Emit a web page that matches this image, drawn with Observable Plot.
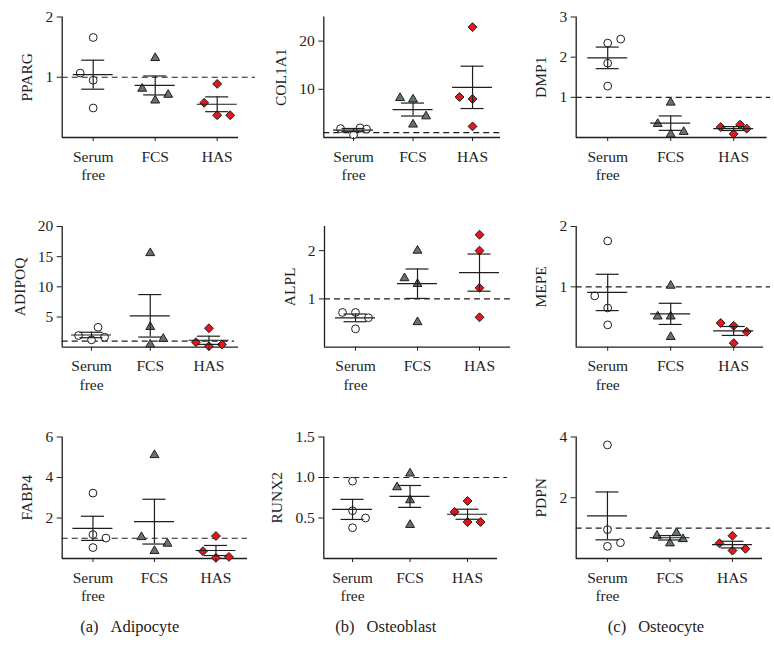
<!DOCTYPE html>
<html><head><meta charset="utf-8">
<script src="https://cdn.jsdelivr.net/npm/d3@7"></script>
<script src="https://cdn.jsdelivr.net/npm/@observablehq/plot@0.6"></script>
<style>
body{margin:0;background:#fff;}
#fig{position:relative;width:774px;height:661px;background:#fff;overflow:hidden;}
.panel{position:absolute;}
.cap{position:absolute;top:619px;font-family:"Liberation Serif";font-size:16.5px;line-height:16px;color:#222;white-space:nowrap;transform:translateX(-50%);}
.cap span{margin-left:12px;}
</style></head><body><div id="fig"></div>
<script>
// ---- data ----
const groups = ["Serum free", "FCS", "HAS"];
const groupTickLabels = ["Serum\nfree", "FCS", "HAS"];
const genes = ["PPARG", "COL1A1", "DMP1", "ADIPOQ", "ALPL", "MEPE", "FABP4", "RUNX2", "PDPN"];
const captionTags = ["(a)", "(b)", "(c)"];
const captionNames = ["Adipocyte", "Osteoblast", "Osteocyte"];

// values: 4 Serum free, 4 FCS, 4 HAS (fold change)
const PPARG  = [1.66, 1.07, 0.95, 0.49,  1.32, 0.81, 0.71, 0.615,  0.89, 0.576, 0.37, 0.37];
const COL1A1 = [1.85, 2.0, 1.75, 0.55,   8.2, 7.9, 4.4, 2.7,        22.9, 8.4, 8.0, 2.3];
const DMP1   = [2.35, 2.45, 1.85, 1.28,  0.87, 0.34, 0.08, 0.14,    0.26, 0.32, 0.22, 0.09];
const ADIPOQ = [1.93, 1.22, 3.3, 1.65,   15.6, 3.36, 1.39, 0.45,    3.14, 0.83, 0.17, 0.45];
const ALPL   = [0.72, 0.72, 0.61, 0.38,  2.0, 1.43, 1.31, 0.52,     2.33, 2.0, 1.23, 0.62];
const MEPE   = [1.76, 0.85, 0.65, 0.37,  1.02, 0.51, 0.51, 0.17,    0.40, 0.355, 0.255, 0.067];
const FABP4  = [3.23, 1.18, 1.01, 0.54,  5.11, 1.06, 0.735, 0.375,  1.11, 0.36, 0.03, 0.08];
const RUNX2  = [0.955, 0.59, 0.50, 0.38, 1.05, 0.88, 0.72, 0.415,   0.71, 0.575, 0.45, 0.45];
const PDPN   = [3.74, 0.95, 0.52, 0.40,  0.75, 0.84, 0.64, 0.50,    0.75, 0.50, 0.26, 0.32];

// dot-plot column of each point within its group (-1 left, 0 centre, 1 right)
const PPARG_col  = [0,-1,0,0,   0,-1,1,0,   0,-1,0,1];
const COL1A1_col = [-1,0.5,1,0, -1,0,1,0,   0,-1,0,0];
const DMP1_col   = [0,1,0,0,    0,-1,0,1,   -1,0.5,1,0];
const ADIPOQ_col = [-1,0,0.5,1, 0,0,1,0,    0,-1,0,1];
const ALPL_col   = [-1,0,1,0,   0,-1,0,0,   0,0,0,0];
const MEPE_col   = [0,-1,0,0,   0,-1,0,0,   -1,0,1,0];
const FABP4_col  = [0,0,1,0,    0,-1,1,0,   0,-1,0,1];
const RUNX2_col  = [0,0,1,0,    0,-1,0,0,   0,-1,0,1];
const PDPN_col   = [0,0,1,0,    -1,0.5,1,0, 0,-1,0,1];

const yMax   = [2, 25, 3, 20, 2.5, 2, 6, 1.5, 4];
const yTicks = [[1,2],[10,20],[1,2,3],[5,10,15,20],[1,2],[1,2],[2,4,6],[0.5,1,1.5],[2,4]];
const yTickFmt = [null,null,null,null,null,null,null,".1f",null];

const values = [PPARG, COL1A1, DMP1, ADIPOQ, ALPL, MEPE, FABP4, RUNX2, PDPN];
const cols = [PPARG_col, COL1A1_col, DMP1_col, ADIPOQ_col, ALPL_col, MEPE_col, FABP4_col, RUNX2_col, PDPN_col];

// ---- layout (pixels) ----
const colLeft = [0, 258, 516];
const rowTop = [0, 200, 400];
const rowFrame = [[16.5, 137], [26, 146.7], [36.5, 158]];
const panelAxisX = [61.7, 323.3, 575.7, 61.7, 324, 575.7, 61.7, 323.3, 575.7];
const panelStep  = [62, 59.5, 63, 58.7, 62, 63, 61.5, 57.5, 62.5];
const panelAxisEnd = [238, 500, 766.7, 238, 510, 763, 247, 497, 762];
const panelDashEnd = [255, 500, 770, 234, 510, 770, 247, 507, 770];
const colStep = 13;

const symbols = ["circle", "triangle", "diamond2"];
const fills = ["#ffffff", "#647373", "#e3161b"];
const radii = [3.9, 3.3, 4.0];
const ink = "#1e1e1e";
const FONT = '"Liberation Serif", "Times New Roman", serif';
const FS = 15.5;

const cvs = document.createElement("canvas").getContext("2d");
cvs.font = `${FS}px "Liberation Serif"`;

const fig = document.getElementById("fig");

genes.forEach((gene, p) => {
  const r = Math.floor(p / 3), c = p % 3;
  const W = 258, H = 200;
  const axL = panelAxisX[p] - colLeft[c];
  const s = panelStep[p];
  const [fTop, fBot] = rowFrame[r];
  const toDom = px => (px - panelAxisX[p]) / s - 0.5;
  const xEnd = toDom(panelAxisEnd[p]);
  const dEnd = toDom(panelDashEnd[p]);

  const pts = values[p].map((v, i) => {
    const g = Math.floor(i / 4);
    return {g, v, x: g + cols[p][i] * colStep / s};
  });
  const stats = groups.map((name, g) => {
    const vs = pts.filter(d => d.g === g).map(d => d.v);
    const m = d3.mean(vs), se = d3.deviation(vs) / Math.sqrt(vs.length);
    return {g, m, lo: m - se, hi: m + se};
  });

  const fmt = yTickFmt[p] ? d3.format(yTickFmt[p]) : d3.format("~g");
  const maxTickW = d3.max(yTicks[p], t => cvs.measureText(fmt(t)).width);

  const marks = [
    Plot.ruleY([1], {x1: -0.5, x2: dEnd, stroke: ink, strokeWidth: 1.2, strokeDasharray: "6,4"}),
    Plot.ruleX([-0.5], {y1: 0, y2: yMax[p], stroke: ink, strokeWidth: 1.3}),
    Plot.ruleY([0], {x1: -0.5, x2: xEnd, stroke: ink, strokeWidth: 1.3}),
  ];
  groups.forEach((name, g) => {
    marks.push(Plot.dot(pts.filter(d => d.g === g), {
      x: "x", y: "v", symbol: () => symbols[g], r: radii[g],
      fill: fills[g], stroke: ink, strokeWidth: 1
    }));
  });
  marks.push(
    Plot.ruleY(stats, {y: "m", x1: d => d.g - 20 / s, x2: d => d.g + 20 / s, stroke: ink, strokeWidth: 1.2}),
    Plot.ruleY(stats, {y: "hi", x1: d => d.g - 11.5 / s, x2: d => d.g + 11.5 / s, stroke: ink, strokeWidth: 1.2}),
    Plot.ruleY(stats, {y: "lo", x1: d => d.g - 11.5 / s, x2: d => d.g + 11.5 / s, stroke: ink, strokeWidth: 1.2}),
    Plot.ruleX(stats, {x: "g", y1: "lo", y2: "hi", stroke: ink, strokeWidth: 1.2}),
    Plot.axisY({ticks: yTicks[p], tickFormat: fmt, tickSize: 5, tickPadding: 4, label: null, stroke: ink, fill: ink}),
    Plot.axisX({ticks: [0, 1, 2], tickFormat: i => groupTickLabels[i], tickSize: 4, tickPadding: 7, lineHeight: 1.2, label: null, stroke: ink, fill: ink}),
    Plot.text([gene], {frameAnchor: "left", rotate: -90, textAnchor: "middle", lineAnchor: "middle", text: d => d, dx: -(10 + maxTickW + 17), fill: ink, fontSize: FS})
  );

  const chart = Plot.plot({
    width: W, height: H,
    marginLeft: axL, marginRight: W - (axL + 3 * s),
    marginTop: fTop, marginBottom: H - fBot,
    x: {type: "linear", domain: [-0.5, 2.5]},
    y: {type: "linear", domain: [0, yMax[p]]},
    style: {fontFamily: FONT, fontSize: FS + "px", color: ink, background: "transparent", overflow: "visible"},
    marks
  });
  chart.classList.add("panel");
  chart.style.left = colLeft[c] + "px";
  chart.style.top = rowTop[r] + "px";
  chart.style.maxWidth = "none";
  fig.appendChild(chart);
});

const capCenters = [129.7, 385.8, 656];
captionTags.forEach((t, i) => {
  const d = document.createElement("div");
  d.className = "cap";
  d.style.left = capCenters[i] + "px";
  d.innerHTML = `${t}<span>${captionNames[i]}</span>`;
  fig.appendChild(d);
});
</script></body></html>
